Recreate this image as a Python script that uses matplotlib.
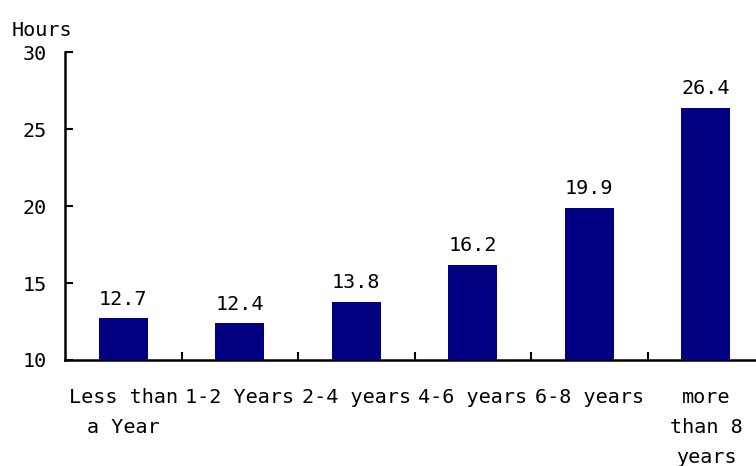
import numpy as np
import matplotlib.pyplot as plt

plt.rcParams['font.family'] = ['DejaVu Sans Mono']

# data
categories = ['Less than\na Year', '1-2 Years', '2-4 years', '4-6 years', '6-8 years', 'more\nthan 8\nyears']
hours = [12.7, 12.4, 13.8, 16.2, 19.9, 26.4]
yticks = [10, 15, 20, 25, 30]

fig = plt.figure(figsize=(7.56, 4.66), dpi=100)
ax = fig.add_axes([0.086, 0.2275, 0.914, 0.6605])

x = np.arange(len(categories))
ax.bar(x, hours, width=0.42, color='#000080', zorder=3)
for xi, v in zip(x, hours):
    ax.text(xi, v + 0.6, f'{v}', ha='center', va='bottom', fontsize=14.5)

ax.set_xlim(-0.5, 5.43)
ax.set_ylim(10, 30)
ax.set_yticks(yticks)
ax.set_xticks(x)
ax.set_xticklabels(categories, fontsize=14.5, linespacing=1.75)
ax.set_xticks(x[:-1] + 0.5, minor=True)
ax.tick_params(axis='x', which='major', length=0, pad=20)
ax.tick_params(axis='x', which='minor', direction='in', length=6, width=1.5)
ax.tick_params(axis='y', direction='in', length=6, width=1.5, labelsize=14.5, pad=13)

for s in ['top', 'right']:
    ax.spines[s].set_visible(False)
for s in ['left', 'bottom']:
    ax.spines[s].set_linewidth(1.8)

fig.text(0.016, 0.935, 'Hours', fontsize=14.5, ha='left', va='center')

fig.savefig('out.png', dpi=100)
